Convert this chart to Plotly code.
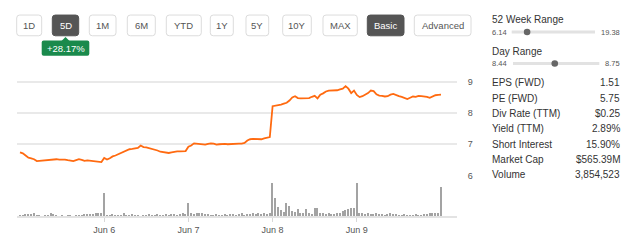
import plotly.graph_objects as go

# ---------------- data ----------------
day_labels = ["Jun 6", "Jun 7", "Jun 8", "Jun 9"]
day_tick_index = [30, 60, 90, 120]

price = [
    # Jun 5
    6.74, 6.71, 6.64, 6.57, 6.55, 6.52, 6.46, 6.47, 6.49, 6.50,
    6.51, 6.50, 6.52, 6.52, 6.51, 6.52, 6.51, 6.49, 6.48, 6.46,
    6.49, 6.52, 6.50, 6.47, 6.48, 6.47, 6.46, 6.46, 6.45, 6.43,
    # Jun 6
    6.56, 6.51, 6.55, 6.61, 6.64, 6.68, 6.72, 6.78, 6.80, 6.84,
    6.85, 6.86, 6.88, 6.96, 6.91, 6.90, 6.88, 6.86, 6.84, 6.80,
    6.76, 6.74, 6.73, 6.72, 6.74, 6.76, 6.77, 6.77, 6.78, 6.78,
    # Jun 7
    6.92, 6.96, 7.03, 7.02, 7.01, 7.00, 6.99, 7.01, 7.03, 7.02,
    6.99, 7.00, 7.01, 7.01, 7.00, 7.01, 7.02, 7.01, 7.02, 7.02,
    7.04, 7.12, 7.16, 7.17, 7.16, 7.15, 7.16, 7.19, 7.21, 7.23,
    # Jun 8
    8.22, 8.23, 8.25, 8.27, 8.30, 8.33, 8.40, 8.50, 8.54, 8.48,
    8.47, 8.48, 8.47, 8.48, 8.52, 8.55, 8.47, 8.59, 8.63, 8.69,
    8.72, 8.72, 8.74, 8.73, 8.76, 8.78, 8.86, 8.78, 8.64, 8.72,
    # Jun 9
    8.58, 8.51, 8.54, 8.58, 8.64, 8.72, 8.70, 8.60, 8.56, 8.55,
    8.53, 8.54, 8.59, 8.61, 8.57, 8.54, 8.52, 8.48, 8.45, 8.49,
    8.53, 8.52, 8.55, 8.54, 8.54, 8.52, 8.49, 8.54, 8.57, 8.58,
    8.59,
]

# volume in thousands of shares
volume = [
    12, 12, 24, 24, 24, 36, 12, 12, 0, 12,
    12, 36, 24, 12, 0, 12, 0, 12, 12, 0,
    12, 12, 12, 24, 24, 24, 24, 36, 36, 48,
    288, 12, 12, 24, 12, 12, 12, 36, 12, 12,
    24, 12, 12, 0, 12, 12, 24, 12, 12, 24,
    12, 12, 24, 12, 24, 24, 12, 24, 36, 24,
    168, 36, 24, 48, 36, 36, 24, 24, 12, 12,
    24, 12, 12, 24, 12, 24, 24, 12, 24, 36,
    12, 24, 24, 36, 24, 36, 24, 36, 24, 48,
    408, 228, 120, 84, 60, 168, 132, 72, 60, 96,
    48, 48, 96, 36, 24, 108, 108, 48, 36, 24,
    36, 24, 24, 36, 48, 72, 84, 96, 108, 108,
    408, 48, 36, 24, 36, 24, 24, 36, 24, 24,
    12, 24, 36, 24, 24, 12, 12, 24, 12, 12,
    12, 24, 12, 12, 24, 24, 36, 36, 48, 48,
    360,
]

range_buttons = ["1D", "5D", "1M", "6M", "YTD", "1Y", "5Y", "10Y", "MAX", "Basic", "Advanced"]
active_buttons = ["5D", "Basic"]
change_label = "+28.17%"

week52_low, week52_high = 6.14, 19.38
day_low, day_high = 8.44, 8.75

stat_labels = ["EPS (FWD)", "PE (FWD)", "Div Rate (TTM)", "Yield (TTM)",
               "Short Interest", "Market Cap", "Volume"]
stat_values = ["1.51", "5.75", "$0.25", "2.89%", "15.90%", "$565.39M", "3,854,523"]

# ---------------- layout helpers ----------------
W, H = 640, 247
L, R, T, B = 17, 457, 70, 218
PRICE_BOTTOM = 177  # pixel y of lowest price gridline

def px(x):
    return (x - L) / (R - L)

def py(y):
    return (B - y) / (B - T)

FONT = "Liberation Sans, Arial, sans-serif"
x_idx = list(range(len(price)))

fig = go.Figure()
fig.add_trace(go.Bar(x=x_idx, y=volume, yaxis="y2", marker=dict(color="#a3a3a3", line=dict(width=0)),
                     width=0.5, hoverinfo="skip"))
fig.add_trace(go.Scatter(x=x_idx, y=price, mode="lines", yaxis="y",
                         line=dict(color="#ff6a10", width=1.8), hoverinfo="skip"))

vol_dom_top = (B - PRICE_BOTTOM) / (B - T)
ppu = 31.67  # pixels per price unit
price_top = 6 + (PRICE_BOTTOM - T) / ppu

shapes = []
annotations = []

def rrect(x0, y0, x1, y1, r):
    pts = [
        ("M", [(x0 + r, y0)]), ("L", [(x1 - r, y0)]), ("Q", [(x1, y0), (x1, y0 + r)]),
        ("L", [(x1, y1 - r)]), ("Q", [(x1, y1), (x1 - r, y1)]), ("L", [(x0 + r, y1)]),
        ("Q", [(x0, y1), (x0, y1 - r)]), ("L", [(x0, y0 + r)]), ("Q", [(x0, y0), (x0 + r, y0)]),
    ]
    s = ""
    for cmd, ps in pts:
        s += cmd + " " + " ".join(f"{px(a):.5f},{py(b):.5f}" for a, b in ps) + " "
    return s + "Z"

def text(x, y, t, size=9.5, color="#444", anchor="left"):
    annotations.append(dict(x=px(x), y=py(y), xref="paper", yref="paper", text=t,
                            showarrow=False, xanchor=anchor, yanchor="middle",
                            font=dict(family=FONT, size=size, color=color)))

# buttons
btn_x = [(16.7, 41.7), (52.3, 78.7), (89.3, 116), (127.3, 155.3), (166.3, 201.3),
         (210.3, 233.3), (246, 268.7), (282.7, 311.3), (323, 357.3), (367.3, 404), (414.3, 471)]
for lab, (a, b) in zip(range_buttons, btn_x):
    active = lab in active_buttons
    shapes.append(dict(type="path", xref="paper", yref="paper", path=rrect(a, 14.3, b, 35.3, 3),
                       fillcolor="#555555" if active else "white",
                       line=dict(color="#555555" if active else "#dcdcdc", width=1)))
    text((a + b) / 2, 25, lab, size=9.5, color="white" if active else "#555", anchor="center")

# change badge
green = "#1a8a4c"
shapes.append(dict(type="path", xref="paper", yref="paper", path=rrect(41.7, 40, 89.3, 55.5, 2),
                   fillcolor=green, line=dict(width=0)))
shapes.append(dict(type="path", xref="paper", yref="paper",
                   path=f"M {px(61.5)},{py(40.5)} L {px(65.5)},{py(36.5)} L {px(69.5)},{py(40.5)} Z",
                   fillcolor=green, line=dict(width=0)))
text(65.5, 48, change_label, size=9.5, color="white", anchor="center")

# right panel
LX, RX = 490, 621.7
last = price[-1]

def slider(y, lo, hi, tx0, tx1, title, ty):
    text(LX, ty, title, size=10, color="#333")
    text(LX, y, f"{lo:.2f}", size=7.5, color="#555")
    text(RX, y, f"{hi:.2f}", size=7.5, color="#555", anchor="right")
    shapes.append(dict(type="line", xref="paper", yref="paper", x0=px(tx0), x1=px(tx1),
                       y0=py(y), y1=py(y), line=dict(color="#e2e2e2", width=3)))
    cx = tx0 + (last - lo) / (hi - lo) * (tx1 - tx0)
    r = 3.3
    shapes.append(dict(type="circle", xref="paper", yref="paper", x0=px(cx - r), x1=px(cx + r),
                       y0=py(y + r), y1=py(y - r), fillcolor="#666", line=dict(width=0)))

slider(31.5, week52_low, week52_high, 511.7, 595, "52 Week Range", 19)
slider(63.5, day_low, day_high, 513, 599.3, "Day Range", 51)

row_y = [82.7, 98.7, 114.3, 129.7, 145.3, 161, 176.3]
for lab, val, y in zip(stat_labels, stat_values, row_y):
    text(LX, y, lab, size=10, color="#333")
    text(RX, y, val, size=10, color="#333", anchor="right")

fig.update_layout(
    width=W, height=H,
    margin=dict(l=L, r=W - R, t=T, b=H - B, pad=0),
    paper_bgcolor="white", plot_bgcolor="white",
    showlegend=False, bargap=0,
    font=dict(family=FONT, color="#555"),
    xaxis=dict(range=[-1.07, 155.7], anchor="y2", tickmode="array",
               tickvals=day_tick_index, ticktext=day_labels,
               showgrid=False, zeroline=False, showline=True, linecolor="#e3e3e3", linewidth=1.5,
               ticks="outside", ticklen=4, tickcolor="#d8d8d8", tickwidth=1,
               tickfont=dict(size=9, color="#555", family=FONT), fixedrange=True),
    yaxis=dict(domain=[vol_dom_top, 1], range=[5.997, price_top], side="right",
               tickmode="array", tickvals=[6, 7, 8, 9], ticktext=["6", "7", "8", "9"],
               showgrid=True, gridcolor="#e9e9e9", gridwidth=1.6, zeroline=False,
               ticks="outside", ticklen=8, tickcolor="rgba(0,0,0,0)",
               tickfont=dict(size=9, color="#555", family=FONT), fixedrange=True),
    yaxis2=dict(domain=[0, vol_dom_top], range=[0, max(volume) * 41 / 34],
                showgrid=False, zeroline=False, showticklabels=False, fixedrange=True),
    shapes=shapes, annotations=annotations,
)

fig.write_html("out.html", config={"displayModeBar": False})
